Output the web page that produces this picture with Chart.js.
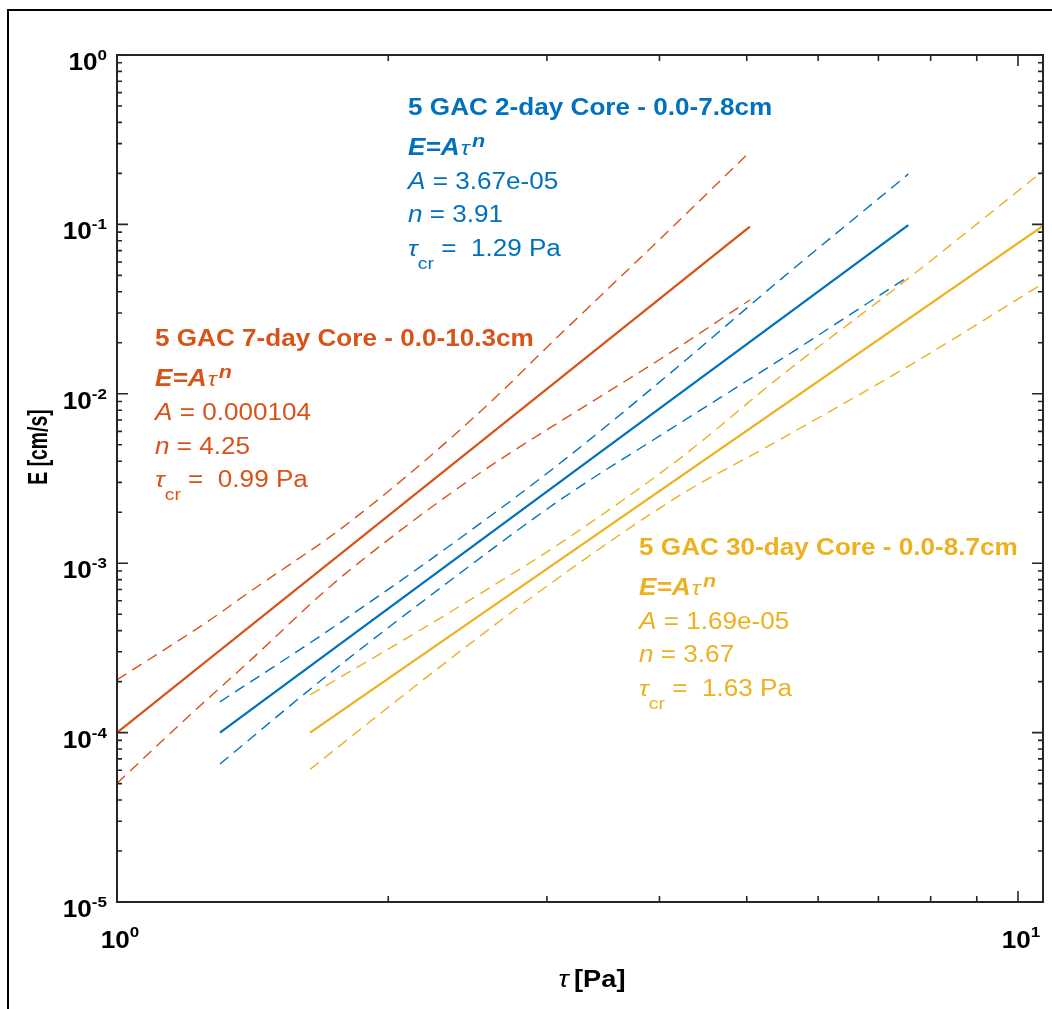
<!DOCTYPE html>
<html>
<head>
<meta charset="utf-8">
<script src="https://cdn.jsdelivr.net/npm/chart.js@4.4.1/dist/chart.umd.min.js"></script>
<style>
  html, body { margin: 0; padding: 0; background: #ffffff; overflow: hidden; }
  #wrap { position: relative; width: 1052px; height: 1009px; }
  canvas { display: block; }
</style>
</head>
<body>
<div id="wrap"><canvas id="c" width="1052" height="1009"></canvas></div>
<script>
// ---------- data ----------
// fitted lines E = A * tau^n (solid)
const tauRedFit = [1.0, 5.04];
const eRedFit = [1.0e-4, 0.097];
const tauBlueFit = [1.301, 7.555];
const eBlueFit = [1.0e-4, 0.099];
const tauYellowFit = [1.638, 10.66];
const eYellowFit = [1.0e-4, 0.098];

// confidence bounds (dashed)
const tauRedUpper = [1.0, 1.268, 1.405, 1.582, 1.723, 1.958, 2.283, 2.661, 2.971, 4.006, 5.0];
const eRedUpper = [2.05e-4, 4.62e-4, 6.80e-4, 1.045e-3, 1.43e-3, 2.42e-3, 4.81e-3, 1.008e-2, 1.79e-2, 8.2e-2, 0.257];
const tauRedLower = [1.0, 1.205, 1.405, 1.723, 1.958, 2.283, 2.661, 3.102, 4.006, 5.04];
const eRedLower = [5.02e-5, 1.27e-4, 2.66e-4, 7.27e-4, 1.26e-3, 2.33e-3, 4.09e-3, 6.85e-3, 1.6e-2, 3.58e-2];

const tauBlueUpper = [1.301, 1.716, 2.342, 3.102, 4.110, 5.443, 7.555];
const eBlueUpper = [1.52e-4, 4.0e-4, 1.272e-3, 3.89e-3, 1.321e-2, 4.7e-2, 0.198];
const tauBlueLower = [1.301, 1.723, 2.342, 3.102, 4.110, 5.443, 7.555];
const eBlueLower = [6.53e-5, 2.24e-4, 7.88e-4, 2.36e-3, 6.17e-3, 1.584e-2, 4.91e-2];

const tauYellowUpper = [1.638, 2.061, 2.528, 3.102, 4.216, 5.443, 7.555, 10.67];
const eYellowUpper = [1.67e-4, 3.42e-4, 6.59e-4, 1.31e-3, 4.16e-3, 1.262e-2, 4.8e-2, 0.2075];
const tauYellowLower = [1.638, 2.061, 2.528, 3.102, 4.216, 5.35, 7.65, 10.67];
const eYellowLower = [6.07e-5, 1.60e-4, 3.71e-4, 8.32e-4, 2.52e-3, 5.10e-3, 1.514e-2, 4.49e-2];

// axes
const xMin = 1, xMax = 10.66;
const yMin = 1e-5, yMax = 1;
const xMajorTicks = [1, 10];
const xMajorExp = ['0', '1'];
const yMajorTicks = [1e-5, 1e-4, 1e-3, 1e-2, 1e-1, 1];
const yMajorExp = ['-5', '-4', '-3', '-2', '-1', '0'];
const minorMantissas = [2, 3, 4, 5, 6, 7, 8, 9];

const xAxisTitle = ['\u03C4', ' [Pa]'];
const yAxisTitle = 'E [cm/s]';

// annotation text blocks (anchored in data coordinates)
const blockBlue = { tau: 2.104, e: 0.444, title: '5 GAC 2-day Core - 0.0-7.8cm', A: '3.67e-05', n: '3.91', tcr: '1.29 Pa' };
const blockRed = { tau: 1.102, e: 0.01915, title: '5 GAC 7-day Core - 0.0-10.3cm', A: '0.000104', n: '4.25', tcr: '0.99 Pa' };
const blockYellow = { tau: 3.797, e: 1.118e-3, title: '5 GAC 30-day Core - 0.0-8.7cm', A: '1.69e-05', n: '3.67', tcr: '1.63 Pa' };

// ---------- styles ----------
const BLUE = '#0072BD', RED = '#D95319', YELLOW = '#EDB120';
const AXIS = '#262626';
const FONT = '"Liberation Sans", Arial, Helvetica, sans-serif';
const SX = 1.135; // horizontal stretch of text in the reference

function pts(xs, ys) { return xs.map((x, i) => ({ x: x, y: ys[i] })); }
function solid(label, xs, ys, color) {
  return { label, data: pts(xs, ys), borderColor: color, borderWidth: 2.3, pointRadius: 0, fill: false, tension: 0 };
}
function dashed(label, xs, ys, color) {
  return { label, data: pts(xs, ys), borderColor: color, borderWidth: 1.4, borderDash: [11, 7],
           pointRadius: 0, fill: false, cubicInterpolationMode: 'monotone' };
}

function drawRuns(ctx, x, y, runs) {
  ctx.save();
  ctx.translate(x, y);
  ctx.scale(SX, 1);
  let cx = 0;
  for (const r of runs) {
    ctx.font = r.font;
    cx += (r.dx || 0);
    ctx.fillText(r.t, cx, r.dy || 0);
    cx += ctx.measureText(r.t).width;
  }
  ctx.restore();
}
function runsWidth(ctx, runs) {
  let w = 0;
  for (const r of runs) { ctx.font = r.font; w += (r.dx || 0) + ctx.measureText(r.t).width; }
  return w * SX;
}

const decor = {
  id: 'decor',
  beforeDraw(chart) {
    const ctx = chart.ctx;
    ctx.save();
    ctx.fillStyle = '#ffffff';
    ctx.fillRect(0, 0, chart.width, chart.height);
    ctx.strokeStyle = '#000000';
    ctx.lineWidth = 2;
    ctx.strokeRect(8, 10, 2000, 2000);
    ctx.restore();
  },
  afterDraw(chart) {
    const ctx = chart.ctx;
    const xs = chart.scales.x, ys = chart.scales.y;
    const a = chart.chartArea;
    ctx.save();
    // axis box
    ctx.strokeStyle = AXIS;
    ctx.lineWidth = 2;
    ctx.strokeRect(a.left, a.top, a.right - a.left, a.bottom - a.top);
    // ticks (inward, all four sides)
    ctx.lineWidth = 1.6;
    ctx.beginPath();
    const yTick = (v, len) => {
      const p = ys.getPixelForValue(v);
      if (p < a.top - 0.5 || p > a.bottom + 0.5) return;
      ctx.moveTo(a.left, p); ctx.lineTo(a.left + len, p);
      ctx.moveTo(a.right, p); ctx.lineTo(a.right - len, p);
    };
    const xTick = (v, len) => {
      const p = xs.getPixelForValue(v);
      if (p < a.left - 0.5 || p > a.right + 0.5) return;
      ctx.moveTo(p, a.bottom); ctx.lineTo(p, a.bottom - len);
      ctx.moveTo(p, a.top); ctx.lineTo(p, a.top + len);
    };
    yMajorTicks.forEach((v, i) => {
      yTick(v, 11);
      if (i < yMajorTicks.length - 1) minorMantissas.forEach(m => yTick(v * m, 5));
    });
    xMajorTicks.forEach(v => {
      xTick(v, 11);
      minorMantissas.forEach(m => xTick(v * m, 6));
    });
    ctx.stroke();

    // tick labels
    ctx.fillStyle = '#000000';
    ctx.textBaseline = 'alphabetic';
    ctx.textAlign = 'left';
    const baseFont = 'bold 23px ' + FONT;
    const expFont = 'bold 15px ' + FONT;
    yMajorTicks.forEach((v, i) => {
      const p = ys.getPixelForValue(v);
      const runs = [{ t: '10', font: baseFont, dy: 15 }, { t: yMajorExp[i], font: expFont, dy: 5 }];
      const w = runsWidth(ctx, runs);
      drawRuns(ctx, a.left - 10 - w, p, runs);
    });
    xMajorTicks.forEach((v, i) => {
      const p = xs.getPixelForValue(v);
      const runs = [{ t: '10', font: baseFont, dy: 0 }, { t: xMajorExp[i], font: expFont, dy: -11 }];
      const w = runsWidth(ctx, runs);
      drawRuns(ctx, p - w / 2 + 3, a.bottom + 46, runs);
    });

    // axis titles
    const xt = [{ t: xAxisTitle[0], font: 'italic 24px ' + FONT }, { t: xAxisTitle[1], font: 'bold 24px ' + FONT, dx: -2 }];
    const xw = runsWidth(ctx, xt);
    drawRuns(ctx, (a.left + a.right) / 2 - xw / 2 + 12, a.bottom + 85, xt);

    ctx.save();
    ctx.translate(47, 447);
    ctx.rotate(-Math.PI / 2);
    ctx.font = 'bold 22px ' + FONT;
    ctx.textAlign = 'center';
    ctx.save();
    ctx.scale(0.88, 1.24);
    ctx.fillText(yAxisTitle, 0, 0);
    ctx.restore();
    ctx.restore();

    // annotation blocks
    const block = (b, color) => {
      const x = xs.getPixelForValue(b.tau);
      const y = ys.getPixelForValue(b.e);
      ctx.fillStyle = color;
      drawRuns(ctx, x, y, [{ t: b.title, font: 'bold 23px ' + FONT }]);
      drawRuns(ctx, x, y + 40, [
        { t: 'E=A', font: 'italic bold 23px ' + FONT },
        { t: '\u03C4', font: 'italic 21px ' + FONT, dx: 1 },
        { t: 'n', font: 'italic bold 19px ' + FONT, dy: -8, dx: 2 }
      ]);
      drawRuns(ctx, x, y + 74, [
        { t: 'A', font: 'italic 23px ' + FONT },
        { t: ' = ' + b.A, font: '23px ' + FONT }
      ]);
      drawRuns(ctx, x, y + 107.5, [
        { t: 'n', font: 'italic 23px ' + FONT },
        { t: ' = ' + b.n, font: '23px ' + FONT }
      ]);
      drawRuns(ctx, x, y + 141, [
        { t: '\u03C4', font: 'italic 23px ' + FONT },
        { t: 'cr', font: '17px ' + FONT, dy: 13 },
        { t: ' =  ' + b.tcr, font: '23px ' + FONT }
      ]);
    };
    block(blockBlue, BLUE);
    block(blockRed, RED);
    block(blockYellow, YELLOW);
    ctx.restore();
  }
};

const chart = new Chart(document.getElementById('c'), {
  type: 'line',
  data: {
    datasets: [
      solid('7-day fit', tauRedFit, eRedFit, RED),
      dashed('7-day upper', tauRedUpper, eRedUpper, RED),
      dashed('7-day lower', tauRedLower, eRedLower, RED),
      solid('2-day fit', tauBlueFit, eBlueFit, BLUE),
      dashed('2-day upper', tauBlueUpper, eBlueUpper, BLUE),
      dashed('2-day lower', tauBlueLower, eBlueLower, BLUE),
      solid('30-day fit', tauYellowFit, eYellowFit, YELLOW),
      dashed('30-day upper', tauYellowUpper, eYellowUpper, YELLOW),
      dashed('30-day lower', tauYellowLower, eYellowLower, YELLOW)
    ]
  },
  options: {
    responsive: false,
    animation: false,
    devicePixelRatio: 1,
    parsing: true,
    layout: { padding: { left: 117, top: 55, right: 9, bottom: 107 } },
    plugins: { legend: { display: false }, tooltip: { enabled: false }, title: { display: false } },
    scales: {
      x: { type: 'logarithmic', min: xMin, max: xMax, display: false },
      y: { type: 'logarithmic', min: yMin, max: yMax, display: false }
    }
  },
  plugins: [decor]
});
</script>
</body>
</html>
